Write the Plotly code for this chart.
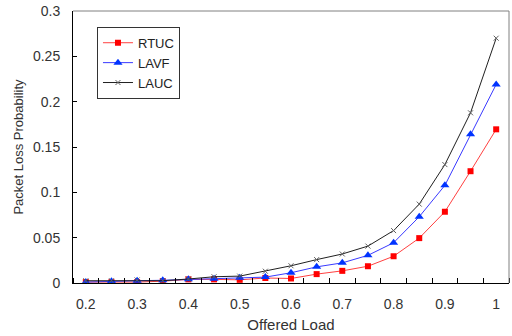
import plotly.graph_objects as go

loads = [0.2, 0.25, 0.3, 0.35, 0.4, 0.45, 0.5, 0.55, 0.6, 0.65, 0.7, 0.75, 0.8, 0.85, 0.9, 0.95, 1.0]
rtuc = [0.001, 0.001, 0.001, 0.002, 0.004, 0.004, 0.0035, 0.0055, 0.005, 0.0098, 0.0134, 0.0185, 0.0295, 0.0495, 0.0786, 0.1233, 0.1695]
lavf = [0.001, 0.002, 0.0025, 0.003, 0.004, 0.0048, 0.0058, 0.0065, 0.0113, 0.0178, 0.0222, 0.0305, 0.0444, 0.0731, 0.1077, 0.164, 0.219]
lauc = [0.0025, 0.0025, 0.0033, 0.0025, 0.0044, 0.0069, 0.0076, 0.013, 0.019, 0.0258, 0.032, 0.0407, 0.0578, 0.087, 0.1306, 0.1877, 0.270]

xtick_vals = [0.2, 0.3, 0.4, 0.5, 0.6, 0.7, 0.8, 0.9, 1.0]
xtick_text = ["0.2", "0.3", "0.4", "0.5", "0.6", "0.7", "0.8", "0.9", "1"]
ytick_vals = [0, 0.05, 0.1, 0.15, 0.2, 0.25, 0.3]
ytick_text = ["0", "0.05", "0.1", "0.15", "0.2", "0.25", "0.3"]

fig = go.Figure()
fig.add_trace(go.Scatter(x=loads, y=rtuc, name="RTUC", mode="lines+markers",
                         line=dict(color="#ff4040", width=1),
                         marker=dict(symbol="square", size=6, color="#ff0000")))
fig.add_trace(go.Scatter(x=loads, y=lavf, name="LAVF", mode="lines+markers",
                         line=dict(color="#3a3aff", width=1),
                         marker=dict(symbol="triangle-up", size=8, color="#0033ff")))
fig.add_trace(go.Scatter(x=loads, y=lauc, name="LAUC", mode="lines+markers",
                         line=dict(color="#202020", width=1),
                         marker=dict(symbol="x-thin", size=5, color="#606060",
                                     line=dict(color="#606060", width=1))))

fam = "Liberation Sans, Arial, sans-serif"
txt = "#333333"
fig.update_layout(
    width=512, height=336,
    margin=dict(l=73, r=3, t=8, b=53),
    paper_bgcolor="white", plot_bgcolor="white",
    font=dict(family=fam, size=14, color=txt),
    showlegend=True,
    legend=dict(x=0.055, y=0.942, xanchor="left", yanchor="top",
                bordercolor="#333333", borderwidth=1, bgcolor="white",
                font=dict(family=fam, size=13, color="#222222"), tracegroupgap=0,
                itemwidth=30),
    xaxis=dict(range=[0.175, 1.025], tickmode="array", tickvals=xtick_vals, ticktext=xtick_text,
               ticks="", showgrid=False, zeroline=False, showline=True, linecolor="black",
               linewidth=1, ticklabelstandoff=8, ticklabeloverflow="allow",
               minor=dict(tickmode="linear", tick0=0.175, dtick=0.05, ticks="inside",
                          ticklen=5, tickcolor="black", showgrid=False),
               title=dict(text="Offered Load", standoff=8, font=dict(family=fam, size=15, color=txt)),
               tickfont=dict(family=fam, size=14, color=txt)),
    yaxis=dict(range=[0, 0.3], tickmode="array", tickvals=ytick_vals, ticktext=ytick_text,
               ticks="inside", ticklen=4, tickcolor="black", showgrid=False, zeroline=False,
               showline=True, linecolor="black", linewidth=1, ticklabelstandoff=9,
               ticklabeloverflow="allow",
               title=dict(text="Packet Loss Probability", standoff=6, font=dict(family=fam, size=13, color=txt)),
               tickfont=dict(family=fam, size=14, color=txt)),
    shapes=[
        dict(type="line", xref="paper", yref="paper", x0=0, x1=1, y0=1, y1=1,
             line=dict(color="#808080", width=1)),
        dict(type="line", xref="paper", yref="paper", x0=1, x1=1, y0=0, y1=1,
             line=dict(color="#808080", width=1)),
    ],
)

fig.write_html("out.html")
